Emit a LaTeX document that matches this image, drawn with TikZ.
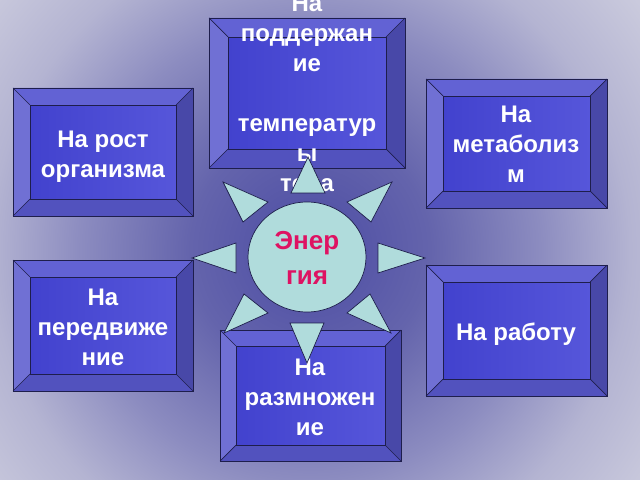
\documentclass[tikz,border=0pt]{standalone}
\usepackage{fontspec}
\setmainfont{Liberation Sans}
\usetikzlibrary{shapes.geometric}
\definecolor{bgA}{HTML}{4C4CA4}
\definecolor{bgB}{HTML}{6464AC}
\definecolor{bgC}{HTML}{8C8CC0}
\definecolor{bgD}{HTML}{B4B4D2}
\definecolor{bgE}{HTML}{CCCCDE}
\definecolor{faceL}{HTML}{4242CE}
\definecolor{faceR}{HTML}{5656DA}
\definecolor{bvTop}{HTML}{6262D4}
\definecolor{bvLeft}{HTML}{7070D4}
\definecolor{bvRight}{HTML}{4848A8}
\definecolor{bvBot}{HTML}{5252BE}
\definecolor{bvLine}{HTML}{1E1E4C}
\definecolor{sunC}{HTML}{B0DCDC}
\definecolor{enC}{HTML}{DE1262}
\pgfdeclareradialshading{bgshade}{\pgfpoint{0bp}{0bp}}{color(0bp)=(bgA); color(120bp)=(bgB); color(230bp)=(bgC); color(320bp)=(bgD); color(420bp)=(bgE)}
\tikzset{
  bevline/.style={draw=bvLine, line width=0.7bp},
  lbl/.style={font=\fontsize{24bp}{30bp}\selectfont\bfseries, text=white, align=center, inner sep=0pt, anchor=base},
  entext/.style={font=\fontsize{26bp}{34bp}\selectfont\bfseries, text=enC, align=center, inner sep=0pt, anchor=base},
  ray/.style={fill=sunC, draw=bvLine, line width=0.7bp, line join=miter},
  sunbody/.style={ellipse, fill=sunC, draw=bvLine, line width=0.7bp, minimum width=118bp, minimum height=110bp, inner sep=0pt}
}
\newcommand\bevbox[5]{%
  \shade[left color=faceL, right color=faceR] (#1+#5,#2+#5) rectangle (#3-#5,#4-#5);
  \fill[bvTop] (#1,#2) -- (#3,#2) -- (#3-#5,#2+#5) -- (#1+#5,#2+#5) -- cycle;
  \fill[bvLeft] (#1,#2) -- (#1+#5,#2+#5) -- (#1+#5,#4-#5) -- (#1,#4) -- cycle;
  \fill[bvRight] (#3,#2) -- (#3-#5,#2+#5) -- (#3-#5,#4-#5) -- (#3,#4) -- cycle;
  \fill[bvBot] (#1,#4) -- (#3,#4) -- (#3-#5,#4-#5) -- (#1+#5,#4-#5) -- cycle;
  \draw[bevline] (#1,#2) rectangle (#3,#4);
  \draw[bevline] (#1+#5,#2+#5) rectangle (#3-#5,#4-#5);
  \draw[bevline] (#1,#2) -- (#1+#5,#2+#5) (#3,#2) -- (#3-#5,#2+#5) (#1,#4) -- (#1+#5,#4-#5) (#3,#4) -- (#3-#5,#4-#5);
}
\begin{document}
\begin{tikzpicture}[x=1bp,y=-1bp]
\useasboundingbox (0,0) rectangle (640,480);
\begin{scope}
\clip (0,0) rectangle (640,480);
\node[inner sep=0pt] (bg) at (310,250) {\pgfuseshading{bgshade}};
\end{scope}
% boxes
\bevbox{209}{18}{405}{168}{19}
\bevbox{13}{88}{193}{216}{17}
\bevbox{426}{79}{607}{208}{17}
\bevbox{13}{260}{193}{391}{17}
\bevbox{220}{330}{401}{461}{16}
\bevbox{426}{265}{607}{396}{17}
% box texts (anchor = baseline of last line)
\node[lbl] (temp) at (307,192) {На\\поддержан\\ие\\[30bp]температур\\ы\\тела};
\node[lbl] (rost) at (103,178) {На рост\\организма};
\node[lbl] (metab) at (516,183) {На\\метаболиз\\м};
\node[lbl] (pered) at (103,365) {На\\передвиже\\ние};
\node[lbl] (razm) at (310,435) {На\\размножен\\ие};
\node[lbl] (rab) at (516,340) {На работу};
% sun rays
\draw[ray] (308,157) -- (291,193) -- (325,193) -- cycle;
\draw[ray] (307,363) -- (290,323) -- (324,323) -- cycle;
\draw[ray] (192,258) -- (236,243) -- (236,273) -- cycle;
\draw[ray] (425,258) -- (378,243) -- (378,273) -- cycle;
\draw[ray] (223,182) -- (268,202) -- (243,222) -- cycle;
\draw[ray] (392,182) -- (347,202) -- (371,222) -- cycle;
\draw[ray] (224,333) -- (268,313) -- (244,294) -- cycle;
\draw[ray] (391,333) -- (347,313) -- (370,294) -- cycle;
\node[sunbody] (sun) at (307,257) {};
\node[entext] (energy) at (307,284) {Энер\\гия};
\end{tikzpicture}
\end{document}
